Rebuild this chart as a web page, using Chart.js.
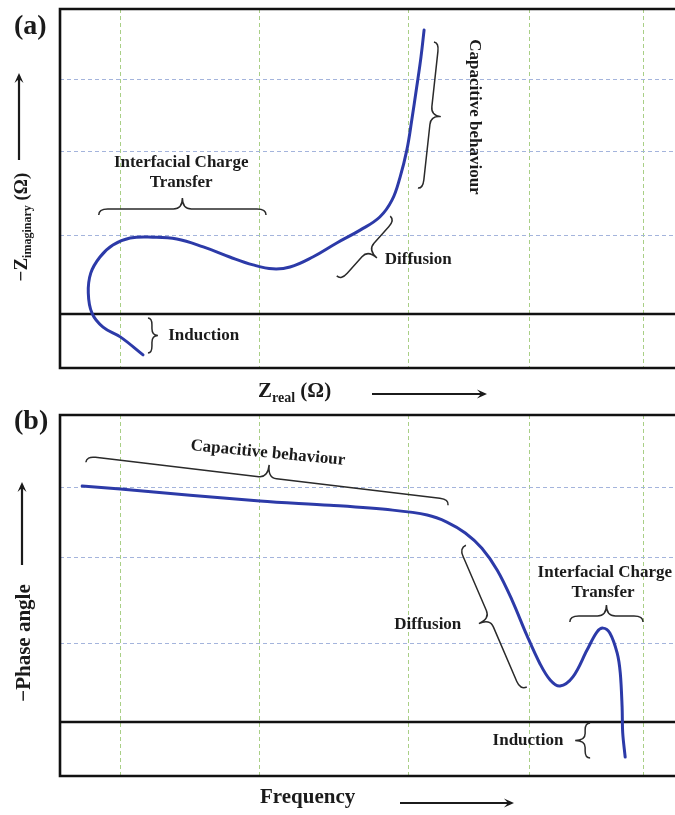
<!DOCTYPE html>
<html>
<head>
<meta charset="utf-8">
<script src="https://cdn.jsdelivr.net/npm/chart.js@4.4.1/dist/chart.umd.min.js"></script>
<style>
  body { margin: 0; background: #fff; }
  #wrap { position: relative; width: 675px; height: 815px; }
  canvas { position: absolute; left: 0; }
  #nyq { top: 0; }
  #bode { top: 400px; }
</style>
</head>
<body>
<div id="wrap">
  <canvas id="bode" width="675" height="415"></canvas>
  <canvas id="nyq" width="675" height="412"></canvas>
</div>
<script>
// (a) Nyquist sketch, arbitrary units (Z real / -Z imaginary)
const nyqReal = [13.5, 9.8, 7.0, 5.2, 4.6, 5.0, 6.5, 8.6, 11.4, 15.1, 19.0, 23.3, 27.6, 31.4, 34.6, 37.4, 41.1, 45.0, 48.8, 52.0, 54.0, 55.3, 56.4, 57.2, 58.0, 58.7, 59.2];
const nyqImag = [-13.4, -7.5, -4.3, 0.3, 6.9, 13.4, 18.7, 22.6, 24.9, 25.2, 24.6, 22.0, 18.7, 16.1, 14.8, 15.4, 18.7, 23.3, 27.5, 31.8, 37.4, 44.9, 53.8, 63.6, 74.4, 84.3, 93.1];

// (b) Bode phase sketch, arbitrary units (frequency / -phase angle)
const bodeFreq = [3.6, 9.8, 32.5, 43.9, 54.1, 59.7, 62.9, 65.9, 68.6, 71.1, 73.5, 75.9, 78.0, 79.7, 81.3, 83.4, 85.7, 87.3, 88.3, 89.4, 90.6, 91.1, 91.4, 91.5, 91.9];
const bodePhase = [77.4, 76.4, 72.5, 71.1, 69.5, 67.9, 65.6, 62.0, 57.0, 49.8, 40.0, 28.5, 19.3, 13.8, 11.8, 14.8, 23.6, 29.5, 30.8, 29.2, 22.6, 16.1, 4.9, -3.6, -11.5];

// dashed grid positions (hand drawn, uneven)
const gridX = [9.8, 32.5, 56.6, 76.3, 94.8];
const gridYa = [25.6, 53.4, 77.0];
const gridYb = [25.9, 53.8, 77.0];

const SERIF = '"Liberation Serif", "Times New Roman", serif';
const INK = '#1b1b1b';
const CURVE = '#2c3aa8';

function fnt(size) { return `bold ${size}px ${SERIF}`; }

function toPx(chart, p) {
  return [chart.scales.x.getPixelForValue(p[0]), chart.scales.y.getPixelForValue(p[1])];
}

// curly brace between two tips, bulging to one side
function drawBrace(ctx, a, b, side, h1, h2) {
  const dx = b[0] - a[0], dy = b[1] - a[1];
  const L = Math.hypot(dx, dy);
  const ux = dx / L, uy = dy / L;
  const nx = -uy * side, ny = ux * side;
  const r = Math.min(9, L / 5);
  const P = (u, v) => [a[0] + u * ux + v * nx, a[1] + u * uy + v * ny];
  ctx.beginPath();
  ctx.moveTo(...P(0, 0));
  ctx.quadraticCurveTo(...P(0, h1), ...P(r, h1));
  ctx.lineTo(...P(L / 2 - r, h1));
  ctx.quadraticCurveTo(...P(L / 2, h1), ...P(L / 2, h1 + h2));
  ctx.quadraticCurveTo(...P(L / 2, h1), ...P(L / 2 + r, h1));
  ctx.lineTo(...P(L - r, h1));
  ctx.quadraticCurveTo(...P(L, h1), ...P(L, 0));
  ctx.stroke();
}

function arrow(ctx, x1, y1, x2, y2) {
  const ang = Math.atan2(y2 - y1, x2 - x1);
  ctx.lineWidth = 2.2;
  ctx.beginPath();
  ctx.moveTo(x1, y1);
  ctx.lineTo(x2 - 3 * Math.cos(ang), y2 - 3 * Math.sin(ang));
  ctx.stroke();
  ctx.beginPath();
  ctx.moveTo(x2, y2);
  ctx.lineTo(x2 - 11 * Math.cos(ang - 0.42), y2 - 11 * Math.sin(ang - 0.42));
  ctx.lineTo(x2 - 6 * Math.cos(ang), y2 - 6 * Math.sin(ang));
  ctx.lineTo(x2 - 11 * Math.cos(ang + 0.42), y2 - 11 * Math.sin(ang + 0.42));
  ctx.closePath();
  ctx.fill();
}

// text made of runs with different sizes (for subscripts)
function rich(ctx, parts, x, y, align) {
  let w = 0;
  parts.forEach(p => { ctx.font = fnt(p.size); w += ctx.measureText(p.t).width; });
  let cx = align === 'center' ? x - w / 2 : x;
  ctx.textAlign = 'left';
  ctx.textBaseline = 'alphabetic';
  parts.forEach(p => {
    ctx.font = fnt(p.size);
    ctx.fillText(p.t, cx, y + (p.dy || 0));
    cx += ctx.measureText(p.t).width;
  });
}

function overlay(id, notes, braces, titles) {
  return {
    id: id,
    beforeDatasetsDraw(chart) {
      const ctx = chart.ctx;
      const a = chart.chartArea;
      const y0 = chart.scales.y.getPixelForValue(0);
      ctx.save();
      ctx.strokeStyle = '#111';
      ctx.lineWidth = 2.6;
      ctx.beginPath();
      ctx.moveTo(a.right + 2, a.top);
      ctx.lineTo(a.left, a.top);
      ctx.lineTo(a.left, a.bottom);
      ctx.lineTo(a.right + 2, a.bottom);
      ctx.moveTo(a.left, y0);
      ctx.lineTo(a.right + 2, y0);
      ctx.stroke();
      ctx.restore();
    },
    afterDraw(chart) {
      const ctx = chart.ctx;
      ctx.save();
      ctx.fillStyle = INK;
      ctx.strokeStyle = '#2a2a2a';
      ctx.lineWidth = 1.5;
      braces.forEach(b => drawBrace(ctx, toPx(chart, b.from), toPx(chart, b.to), b.side, b.h1, b.h2));
      notes.forEach(n => {
        const [x, y] = toPx(chart, n.at);
        ctx.save();
        ctx.translate(x, y);
        ctx.rotate((n.rot || 0) * Math.PI / 180);
        ctx.font = fnt(17);
        ctx.textAlign = n.align || 'center';
        ctx.textBaseline = 'middle';
        ctx.fillText(n.text, 0, 0);
        ctx.restore();
      });
      ctx.strokeStyle = INK;
      titles(ctx);
      ctx.restore();
    }
  };
}

function baseOptions(yMin, yMax, yGrid, pad) {
  return {
    responsive: false,
    animation: false,
    layout: { padding: pad },
    plugins: { legend: { display: false }, tooltip: { enabled: false } },
    scales: {
      x: {
        type: 'linear', min: 0, max: 100,
        ticks: { display: false },
        grid: { color: '#a9cf86', lineWidth: 1, drawTicks: false },
        border: { display: false, dash: [4, 3] },
        afterBuildTicks: s => { s.ticks = gridX.map(v => ({ value: v })); }
      },
      y: {
        type: 'linear', min: yMin, max: yMax,
        ticks: { display: false },
        grid: { color: '#a4b4dc', lineWidth: 1, drawTicks: false },
        border: { display: false, dash: [4, 3] },
        afterBuildTicks: s => { s.ticks = yGrid.map(v => ({ value: v })); }
      }
    }
  };
}

// ---- (a) Nyquist ----
const notesA = [
  { text: 'Interfacial Charge', at: [19.7, 49.5] },
  { text: 'Transfer', at: [19.7, 43.0] },
  { text: 'Induction', at: [17.6, -7.2], align: 'left' },
  { text: 'Diffusion', at: [52.8, 17.7], align: 'left' },
  { text: 'Capacitive behaviour', at: [67.3, 64.6], rot: 90 }
];
const bracesA = [
  { from: [6.3, 32.5], to: [33.5, 32.5], side: -1, h1: 6, h2: 11 },
  { from: [14.3, -1.3], to: [14.3, -12.8], side: -1, h1: 4, h2: 6 },
  { from: [45.0, 12.5], to: [53.7, 32.1], side: 1, h1: 6, h2: 12 },
  { from: [60.8, 89.2], to: [58.2, 41.3], side: -1, h1: 5, h2: 10 }
];

new Chart(document.getElementById('nyq'), {
  type: 'scatter',
  data: {
    datasets: [{
      data: nyqReal.map((x, i) => ({ x: x, y: nyqImag[i] })),
      showLine: true,
      borderColor: CURVE,
      borderWidth: 3,
      pointRadius: 0,
      tension: 0.4,
      borderCapStyle: 'round'
    }]
  },
  options: baseOptions(-17.7, 100, gridYa, { left: 60, top: 9, right: 0, bottom: 44 }),
  plugins: [overlay('nyqNotes', notesA, bracesA, ctx => {
    ctx.font = fnt(28);
    ctx.textAlign = 'left';
    ctx.textBaseline = 'alphabetic';
    ctx.fillText('(a)', 14, 34);
    // y title, rotated
    ctx.save();
    ctx.translate(27, 227);
    ctx.rotate(-Math.PI / 2);
    rich(ctx, [{ t: '\u2212Z', size: 19 }, { t: 'imaginary', size: 12, dy: 4 }, { t: ' (\u03A9)', size: 19 }], 0, 0, 'center');
    ctx.restore();
    arrow(ctx, 19, 160, 19, 73);
    // x title
    rich(ctx, [{ t: 'Z', size: 21 }, { t: 'real', size: 14, dy: 5 }, { t: ' (\u03A9)', size: 21 }], 258, 397);
    arrow(ctx, 372, 394, 487, 394);
  })]
});

// ---- (b) Bode phase ----
const notesB = [
  { text: 'Capacitive behaviour', at: [33.8, 88.2], rot: 5.5 },
  { text: 'Diffusion', at: [59.8, 31.8] },
  { text: 'Interfacial Charge', at: [88.6, 48.9] },
  { text: 'Transfer', at: [88.3, 42.3] },
  { text: 'Induction', at: [76.1, -6.2] }
];
const bracesB = [
  { from: [4.2, 85.2], to: [63.1, 71.1], side: -1, h1: 6, h2: 13 },
  { from: [66.0, 58.0], to: [75.9, 11.5], side: 1, h1: 7, h2: 12 },
  { from: [82.9, 32.8], to: [94.8, 32.8], side: -1, h1: 6, h2: 11 },
  { from: [86.2, -0.3], to: [86.2, -11.8], side: 1, h1: 5, h2: 10 }
];

new Chart(document.getElementById('bode'), {
  type: 'scatter',
  data: {
    datasets: [{
      data: bodeFreq.map((x, i) => ({ x: x, y: bodePhase[i] })),
      showLine: true,
      borderColor: CURVE,
      borderWidth: 3,
      pointRadius: 0,
      tension: 0.35,
      borderCapStyle: 'round'
    }]
  },
  options: baseOptions(-17.7, 100.7, gridYb, { left: 60, top: 15, right: 0, bottom: 39 }),
  plugins: [overlay('bodeNotes', notesB, bracesB, ctx => {
    ctx.font = fnt(28);
    ctx.textAlign = 'left';
    ctx.textBaseline = 'alphabetic';
    ctx.fillText('(b)', 14, 29);
    ctx.save();
    ctx.translate(30, 243);
    ctx.rotate(-Math.PI / 2);
    ctx.font = fnt(21);
    ctx.textAlign = 'center';
    ctx.fillText('\u2212Phase angle', 0, 0);
    ctx.restore();
    arrow(ctx, 22, 165, 22, 82);
    ctx.font = fnt(21);
    ctx.textAlign = 'left';
    ctx.fillText('Frequency', 260, 403);
    arrow(ctx, 400, 403, 514, 403);
  })]
});
</script>
</body>
</html>
